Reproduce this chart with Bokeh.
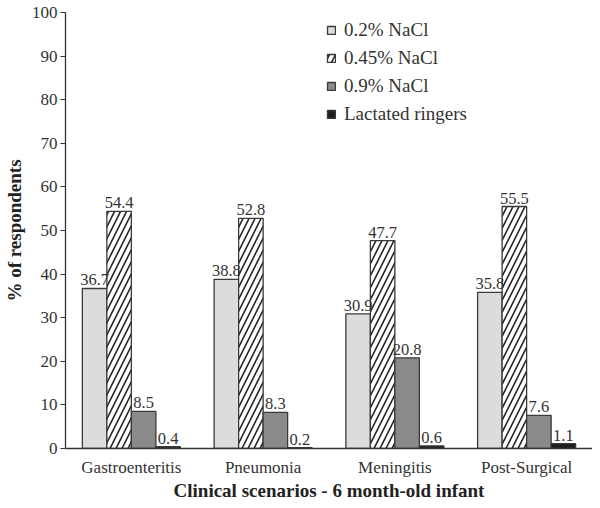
from bokeh.plotting import figure
from bokeh.models import ColumnDataSource, LabelSet, Range1d, FactorRange, Legend, LegendItem, FixedTicker
from bokeh.transform import dodge
from bokeh.embed import file_html
from bokeh.resources import INLINE

scenarios = ["Gastroenteritis", "Pneumonia", "Meningitis", "Post-Surgical"]
nacl_02 = [36.7, 38.8, 30.9, 35.8]
nacl_045 = [54.4, 52.8, 47.7, 55.5]
nacl_09 = [8.5, 8.3, 20.8, 7.6]
lactated = [0.4, 0.2, 0.6, 1.1]
series_names = ["0.2% NaCl", "0.45% NaCl", "0.9% NaCl", "Lactated ringers"]
y_ticks = [0, 10, 20, 30, 40, 50, 60, 70, 80, 90, 100]

FONT = "Liberation Serif"
TXT = "#333333"

p = figure(x_range=FactorRange(*scenarios, range_padding=0), y_range=Range1d(0, 100),
           width=592, height=503, output_backend="svg", toolbar_location=None,
           min_border_left=65, min_border_right=0, min_border_top=12, min_border_bottom=40)
p.xgrid.visible = False
p.ygrid.visible = False
p.outline_line_color = None

src = ColumnDataSource(dict(x=scenarios, a=nacl_02, b=nacl_045, c=nacl_09, d=lactated,
                            la=[f"{v:.1f}" for v in nacl_02], lb=[f"{v:.1f}" for v in nacl_045],
                            lc=[f"{v:.1f}" for v in nacl_09], ld=[f"{v:.1f}" for v in lactated]))

w = 0.186
offs = [-1.5 * w, -0.5 * w, 0.5 * w, 1.5 * w]
cols = ["a", "b", "c", "d"]
fills = ["#dcdcdc", "white", "#8a8a8a", "#1e1e1e"]
items = []
for i, (col, fc) in enumerate(zip(cols, fills)):
    kw = {}
    if i == 1:
        kw = dict(hatch_pattern="/", hatch_scale=12, hatch_weight=1.6, hatch_color="#222222")
    r = p.vbar(x=dodge("x", offs[i], range=p.x_range), top=col, width=w, source=src,
               fill_color=fc, line_color="#3a3a3a", line_width=1.3, **kw)
    items.append(LegendItem(label=series_names[i], renderers=[r]))
    lbl = LabelSet(x=dodge("x", offs[i], range=p.x_range), y=col, text="l" + col, source=src,
                   text_align="center", text_baseline="bottom", y_offset=3,
                   text_font=FONT, text_font_size="16.5px", text_color=TXT)
    p.add_layout(lbl)

legend = Legend(items=items, border_line_color=None,
                background_fill_alpha=0, label_text_font=FONT, label_text_font_size="19px",
                label_text_color=TXT, glyph_width=10, glyph_height=10, spacing=6,
                margin=0, padding=8, label_standoff=8)
p.add_layout(legend, "center")
legend.location = (261, 323)

p.yaxis.ticker = FixedTicker(ticks=y_ticks)
p.yaxis.minor_tick_line_color = None
p.yaxis.major_tick_in = 0
p.yaxis.major_tick_out = 5
p.yaxis.axis_line_color = TXT
p.yaxis.major_tick_line_color = TXT
p.yaxis.axis_line_width = 1.3
p.yaxis.major_label_text_font = FONT
p.yaxis.major_label_text_font_size = "17px"
p.yaxis.major_label_text_color = TXT
p.yaxis.major_label_standoff = 3
p.yaxis.axis_label = "% of respondents"
p.yaxis.axis_label_text_font = FONT
p.yaxis.axis_label_text_font_style = "bold"
p.yaxis.axis_label_text_font_size = "19px"
p.yaxis.axis_label_text_color = "#222222"
p.yaxis.axis_label_standoff = 4

p.xaxis.major_tick_line_color = None
p.xaxis.minor_tick_line_color = None
p.xaxis.axis_line_color = TXT
p.xaxis.axis_line_width = 1.3
p.xaxis.major_label_text_font = FONT
p.xaxis.major_label_text_font_size = "17px"
p.xaxis.major_label_text_color = TXT
p.xaxis.major_label_standoff = 3
p.xaxis.axis_label = "Clinical scenarios - 6 month-old infant"
p.xaxis.axis_label_text_font = FONT
p.xaxis.axis_label_text_font_style = "bold"
p.xaxis.axis_label_text_font_size = "19px"
p.xaxis.axis_label_text_color = "#222222"
p.xaxis.axis_label_standoff = 0

open("out.html", "w").write(file_html(p, INLINE))
